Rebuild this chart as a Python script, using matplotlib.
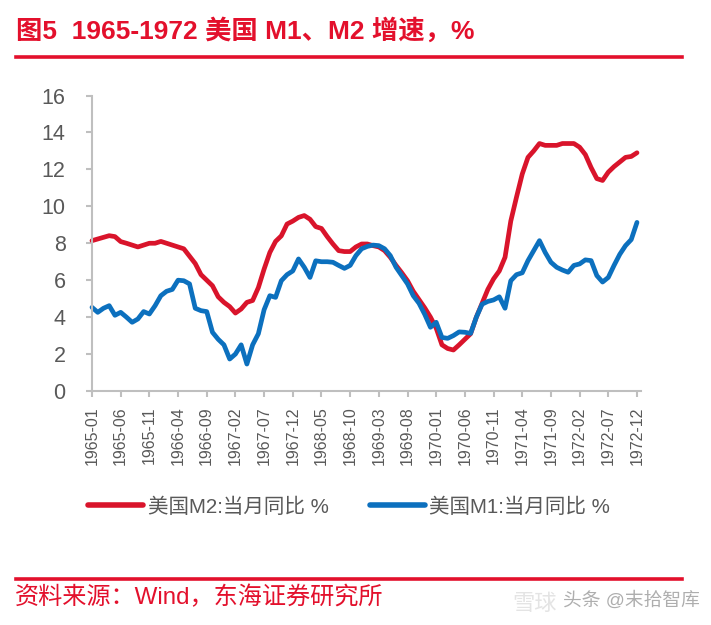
import numpy as np
import pandas as pd
import matplotlib
matplotlib.use("Agg")
import matplotlib.pyplot as plt

FONTS = ['Liberation Sans', 'Noto Sans CJK SC', 'DejaVu Sans']
plt.rcParams['font.family'] = FONTS

# ---------------------------------------------------------------------------
# Data (monthly, 1965-01 .. 1972-12)
# ---------------------------------------------------------------------------
MONTHS = pd.date_range('1965-01', '1972-12', freq='MS').strftime('%Y-%m').tolist()

M2_YOY = [8.14, 8.23, 8.32, 8.41, 8.36, 8.09, 8.0, 7.9, 7.8, 7.9, 8.0, 8.0,
          8.1, 8.0, 7.9, 7.8, 7.7, 7.3, 6.9, 6.3, 6.0, 5.7, 5.1, 4.8,
          4.57, 4.22, 4.44, 4.8, 4.9, 5.6, 6.6, 7.5, 8.1, 8.4, 9.04, 9.2,
          9.4, 9.5, 9.3, 8.9, 8.8, 8.36, 7.96, 7.6, 7.55, 7.55, 7.8, 7.96,
          7.96, 7.87, 7.8, 7.6, 7.24, 6.8, 6.4, 5.97, 5.4, 4.95, 4.5, 4.0,
          3.4, 2.5, 2.3, 2.22, 2.5, 2.8, 3.1, 4.0, 4.75, 5.5, 6.07, 6.5,
          7.24, 9.2, 10.5, 11.75, 12.65, 13.0, 13.4, 13.3, 13.3, 13.3, 13.4, 13.4,
          13.4, 13.2, 12.8, 12.1, 11.5, 11.4, 11.85, 12.15, 12.4, 12.65, 12.7, 12.9]

M1_YOY = [4.53, 4.26, 4.48, 4.62, 4.1, 4.26, 4.0, 3.72, 3.9, 4.3, 4.17, 4.62,
          5.16, 5.4, 5.5, 6.0, 5.97, 5.8, 4.48, 4.35, 4.3, 3.18, 2.8, 2.5,
          1.73, 2.0, 2.5, 1.46, 2.5, 3.1, 4.4, 5.16, 5.07, 5.97, 6.3, 6.5,
          7.15, 6.7, 6.15, 7.05, 7.0, 7.0, 6.97, 6.8, 6.64, 6.8, 7.33, 7.7,
          7.83, 7.9, 7.87, 7.7, 7.33, 6.7, 6.25, 5.8, 5.16, 4.75, 4.15, 3.45,
          3.72, 2.9, 2.85, 3.0, 3.2, 3.18, 3.12, 4.0, 4.7, 4.85, 4.93, 5.1,
          4.48, 5.97, 6.3, 6.4, 7.06, 7.6, 8.14, 7.5, 6.97, 6.7, 6.55, 6.43,
          6.8, 6.88, 7.1, 7.06, 6.25, 5.9, 6.15, 6.8, 7.4, 7.87, 8.2, 9.13]

Y_TICKS = [0, 2, 4, 6, 8, 10, 12, 14, 16]

# ---------------------------------------------------------------------------
# Style
# ---------------------------------------------------------------------------
RED = '#D9142B'
TITLE_RED = '#E3102C'
BLUE = '#0C70BE'
AXIS_C = '#BFBFBF'
TEXT_C = '#595959'

fig = plt.figure(figsize=(7.11, 6.25), dpi=100)
fig.patch.set_facecolor('white')

# title + rules
fig.text(16 / 711, 1 - 31 / 625, '图5  1965-1972 美国 M1、M2 增速，%',
         color=TITLE_RED, fontsize=19, fontweight='bold', ha='left', va='center')
fig.add_artist(plt.Line2D([16 / 711, 682 / 711], [1 - 57 / 625] * 2,
                          color=TITLE_RED, lw=2.6, transform=fig.transFigure))
fig.add_artist(plt.Line2D([16 / 711, 682 / 711], [1 - 579 / 625] * 2,
                          color=TITLE_RED, lw=2.6, transform=fig.transFigure))
fig.text(15 / 711, 1 - 598 / 625, '资料来源：Wind，东海证券研究所',
         color=TITLE_RED, fontsize=17.4, ha='left', va='center')

# faint watermark
fig.text(512 / 711, 1 - 604 / 625, '雪球', color='#E4E4E4', fontsize=16,
         ha='left', va='center')
fig.text(563 / 711, 1 - 601 / 625, '头条 @末拾智库', color='#9A9A9A', fontsize=13.5,
         ha='left', va='center', alpha=0.8)

# ---------------------------------------------------------------------------
# Axes
# ---------------------------------------------------------------------------
ax = fig.add_axes([92 / 711, 1 - 391 / 625, (641 - 92) / 711, (391 - 95.5) / 625])
x = np.arange(len(MONTHS))

ax.plot(x, M2_YOY, color=RED, lw=3.4, solid_capstyle='round',
        solid_joinstyle='round', label='美国M2:当月同比 %', clip_on=False)
ax.plot(x, M1_YOY, color=BLUE, lw=3.4, solid_capstyle='round',
        solid_joinstyle='round', label='美国M1:当月同比 %', clip_on=False)

ax.set_xlim(0, len(MONTHS) - 1 + 0.7)
ax.set_ylim(0, 16)
ax.set_yticks(Y_TICKS)
ax.set_yticklabels([str(v) for v in Y_TICKS])
tick_idx = list(range(0, len(MONTHS), 5))
ax.set_xticks(tick_idx)
ax.set_xticklabels([MONTHS[i] for i in tick_idx], rotation=90)

for side in ('top', 'right'):
    ax.spines[side].set_visible(False)
for side in ('left', 'bottom'):
    ax.spines[side].set_color(AXIS_C)
    ax.spines[side].set_linewidth(1.5)

ax.tick_params(axis='y', colors=AXIS_C, length=4, width=1.5, pad=15,
               labelcolor=TEXT_C, labelsize=15.5)
ax.tick_params(axis='x', colors=AXIS_C, length=4, width=1.5, pad=7,
               labelcolor=TEXT_C, labelsize=11.5)

leg = fig.legend(loc='center', bbox_to_anchor=(349 / 711, 1 - 507 / 625), ncol=2,
                 frameon=False, fontsize=14.8, handlelength=2.7, handletextpad=0.2,
                 columnspacing=2.0, labelcolor=TEXT_C)
for h in leg.get_lines():
    h.set_linewidth(4.0)
    h.set_solid_capstyle('round')

fig.savefig('out.png', dpi=100)
